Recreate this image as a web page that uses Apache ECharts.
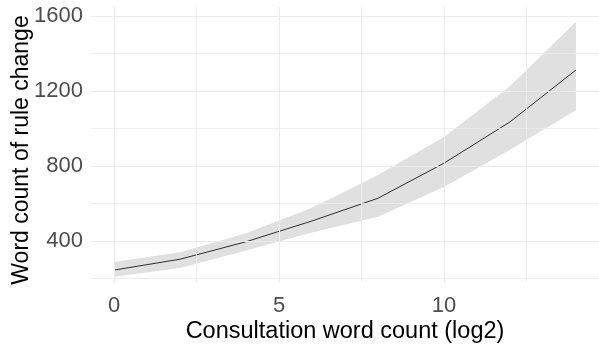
<!DOCTYPE html>
<html>
<head>
<meta charset="utf-8">
<script src="https://cdn.jsdelivr.net/npm/echarts@6/dist/echarts.min.js"></script>
<style>
  html, body { margin: 0; padding: 0; background: #ffffff; }
  #chart { width: 599px; height: 352px; }
</style>
</head>
<body>
<div id="chart"></div>
<script>
// Data
var xValues = [0, 2, 4, 6, 8, 10, 12, 14];
var fitValues = [245, 303, 396, 507, 628, 815, 1035, 1312];
var lowerValues = [210, 256, 350, 445, 530, 688, 887, 1097];
var upperValues = [288, 340, 441, 578, 752, 955, 1225, 1570];

var xTickLabels = [0, 5, 10];
var yTickLabels = [400, 800, 1200, 1600];
var xMinorGrid = [2.5, 7.5, 12.5];
var yMinorGrid = [200, 600, 1000, 1400];

var xTitle = 'Consultation word count (log2)';
var yTitle = 'Word count of rule change';

var fitData = xValues.map(function (x, i) { return [x, fitValues[i]]; });
var bandData = xValues.map(function (x, i) { return [x, lowerValues[i], upperValues[i]]; });

var gridColor = '#ebebeb';
var gridLines = [];
xTickLabels.concat(xMinorGrid).forEach(function (v) {
  gridLines.push({ xAxis: v, lineStyle: { color: gridColor, type: 'solid', width: xMinorGrid.indexOf(v) >= 0 ? 0.8 : 1.1 } });
});
yTickLabels.concat(yMinorGrid).forEach(function (v) {
  gridLines.push({ yAxis: v, lineStyle: { color: gridColor, type: 'solid', width: yMinorGrid.indexOf(v) >= 0 ? 0.8 : 1.1 } });
});

function renderBand(params, api) {
  if (params.dataIndex !== 0) return null;
  var upperPts = [], lowerPts = [];
  for (var i = 0; i < bandData.length; i++) {
    upperPts.push(api.coord([bandData[i][0], bandData[i][2]]));
    lowerPts.push(api.coord([bandData[i][0], bandData[i][1]]));
  }
  var pts = upperPts.concat(lowerPts.reverse());
  return {
    type: 'polygon',
    shape: { points: pts },
    style: { fill: 'rgba(153,153,153,0.3)', stroke: null }
  };
}

var font = 'Liberation Sans, Arial, sans-serif';
var chart = echarts.init(document.getElementById('chart'), null, { renderer: 'canvas' });
chart.setOption({
  animation: false,
  backgroundColor: '#ffffff',
  grid: { left: 91, right: 0, top: 7, bottom: 69, containLabel: false, outerBoundsMode: 'none' },
  xAxis: {
    type: 'value', min: -0.7, max: 14.7,
    name: xTitle, nameLocation: 'middle', nameGap: 37, nameMoveOverlap: false,
    nameTextStyle: { fontFamily: font, fontSize: 23.5, color: '#000000' },
    axisLine: { show: false }, axisTick: { show: false }, splitLine: { show: false },
    axisLabel: { customValues: xTickLabels, fontFamily: font, fontSize: 22, color: '#4d4d4d', margin: 12,
      formatter: function (v) { return String(v); } }
  },
  yAxis: {
    type: 'value', min: 176, max: 1648,
    name: yTitle, nameLocation: 'middle', nameGap: 58, nameMoveOverlap: false,
    nameTextStyle: { fontFamily: font, fontSize: 23, color: '#000000', padding: [0, 10, 0, 0] },
    axisLine: { show: false }, axisTick: { show: false }, splitLine: { show: false },
    axisLabel: { customValues: yTickLabels, fontFamily: font, fontSize: 22, color: '#4d4d4d', margin: 8,
      formatter: function (v) { return String(v); } }
  },
  series: [
    {
      type: 'line', data: [], symbol: 'none', silent: true, z: 1,
      markLine: { silent: true, symbol: ['none', 'none'], label: { show: false }, data: gridLines, animation: false }
    },
    {
      type: 'custom', data: bandData, renderItem: renderBand, silent: true, z: 2,
      encode: { x: 0, y: [1, 2] }
    },
    {
      type: 'line', data: fitData, symbol: 'none', silent: true,
      lineStyle: { color: '#000000', width: 0.8 }, z: 3
    }
  ]
});
</script>
</body>
</html>
